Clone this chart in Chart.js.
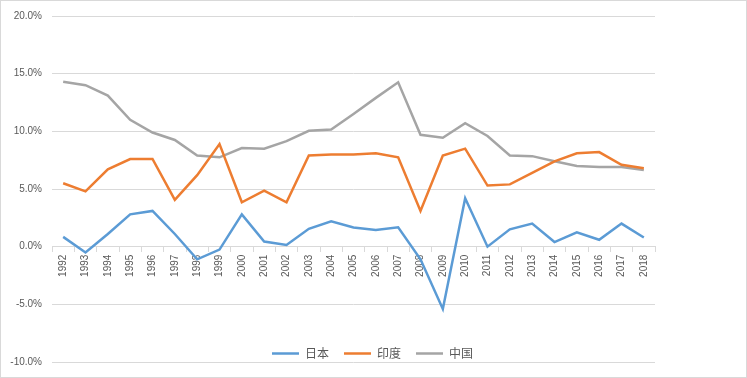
<!DOCTYPE html>
<html><head><meta charset="utf-8">
<script src="https://cdn.jsdelivr.net/npm/chart.js@4/dist/chart.umd.min.js"></script>
<style>html,body{margin:0;padding:0;background:#fff}#wrap{width:747px;height:378px;position:relative}</style>
</head><body><div id="wrap"><canvas id="c" width="747" height="378"></canvas></div>
<script>
const years = ['1992','1993','1994','1995','1996','1997','1998','1999','2000','2001','2002','2003','2004','2005','2006','2007','2008','2009','2010','2011','2012','2013','2014','2015','2016','2017','2018'];
const japan = [0.85,-0.5,1.1,2.8,3.1,1.1,-1.1,-0.25,2.8,0.45,0.15,1.55,2.2,1.66,1.45,1.68,-1.1,-5.4,4.2,0.0,1.5,2.0,0.4,1.25,0.6,2.0,0.8];
const india = [5.5,4.8,6.7,7.6,7.6,4.05,6.2,8.9,3.85,4.85,3.85,7.9,8.0,8.0,8.1,7.75,3.1,7.9,8.5,5.3,5.4,6.4,7.4,8.1,8.2,7.1,6.8];
const china = [14.3,14.0,13.1,11.0,9.9,9.25,7.9,7.75,8.55,8.5,9.15,10.05,10.15,11.5,12.9,14.25,9.7,9.45,10.7,9.6,7.9,7.85,7.4,7.0,6.9,6.9,6.65];
const seriesNames = ['日本','印度','中国'];
const seriesColors = ['#5B9BD5','#ED7D31','#A5A5A5'];
const yTicks = [20,15,10,5,0,-5,-10];

const frame = {id:'frame', afterDraw(ch){const c=ch.ctx;c.save();c.strokeStyle='#D9D9D9';c.lineWidth=1;c.strokeRect(0.5,0.5,ch.width-1,ch.height-1);c.restore();}};
const legendPlugin = {id:'myLegend', afterDraw(ch){
  const c=ch.ctx; c.save();
  c.font='12px "Noto Sans CJK SC"'; c.textBaseline='middle';
  const y=353.5; const lineLen=27, gap=6, itemGap=15;
  const items = ch.data.datasets.map(d=>({t:d.label,col:d.borderColor,w:c.measureText(d.label).width}));
  let total = items.reduce((s,i)=>s+lineLen+gap+i.w,0)+itemGap*(items.length-1);
  let x = 372.5 - total/2;
  items.forEach(i=>{
    c.strokeStyle=i.col; c.lineWidth=2.5; c.beginPath(); c.moveTo(x,y); c.lineTo(x+lineLen,y); c.stroke();
    x+=lineLen+gap; c.fillStyle='#595959'; c.fillText(i.t,x,y); x+=i.w+itemGap;
  });
  c.restore();
}};

new Chart(document.getElementById('c'), {
  type:'line',
  data:{labels:years, datasets:[japan,india,china].map((d,i)=>({label:seriesNames[i],data:d,borderColor:seriesColors[i],backgroundColor:seriesColors[i],borderWidth:2.5,pointRadius:0,tension:0,fill:false}))},
  options:{
    responsive:false, animation:false,
    layout:{padding:{left:0,right:92,top:15,bottom:15}},
    plugins:{legend:{display:false},tooltip:{enabled:false}},
    scales:{
      x:{type:'category', position:{y:0}, offset:true,
        grid:{offset:true, drawOnChartArea:false, drawTicks:true, tickLength:5, color:'#D9D9D9'},
        border:{display:true,color:'#D9D9D9'},
        ticks:{minRotation:90,maxRotation:90,autoSkip:false,color:'#595959',font:{family:'Liberation Sans',size:10},padding:3}},
      y:{min:-10,max:20,
        afterBuildTicks(s){s.ticks=yTicks.map(v=>({value:v}));},
        afterFit(s){s.width=52;},
        grid:{color:'#D9D9D9',drawTicks:false},
        border:{display:false},
        ticks:{color:'#595959',font:{family:'Liberation Sans',size:10},padding:10,callback:v=>v.toFixed(1)+'%'}}
    }
  },
  plugins:[frame,legendPlugin]
});
</script></body></html>
